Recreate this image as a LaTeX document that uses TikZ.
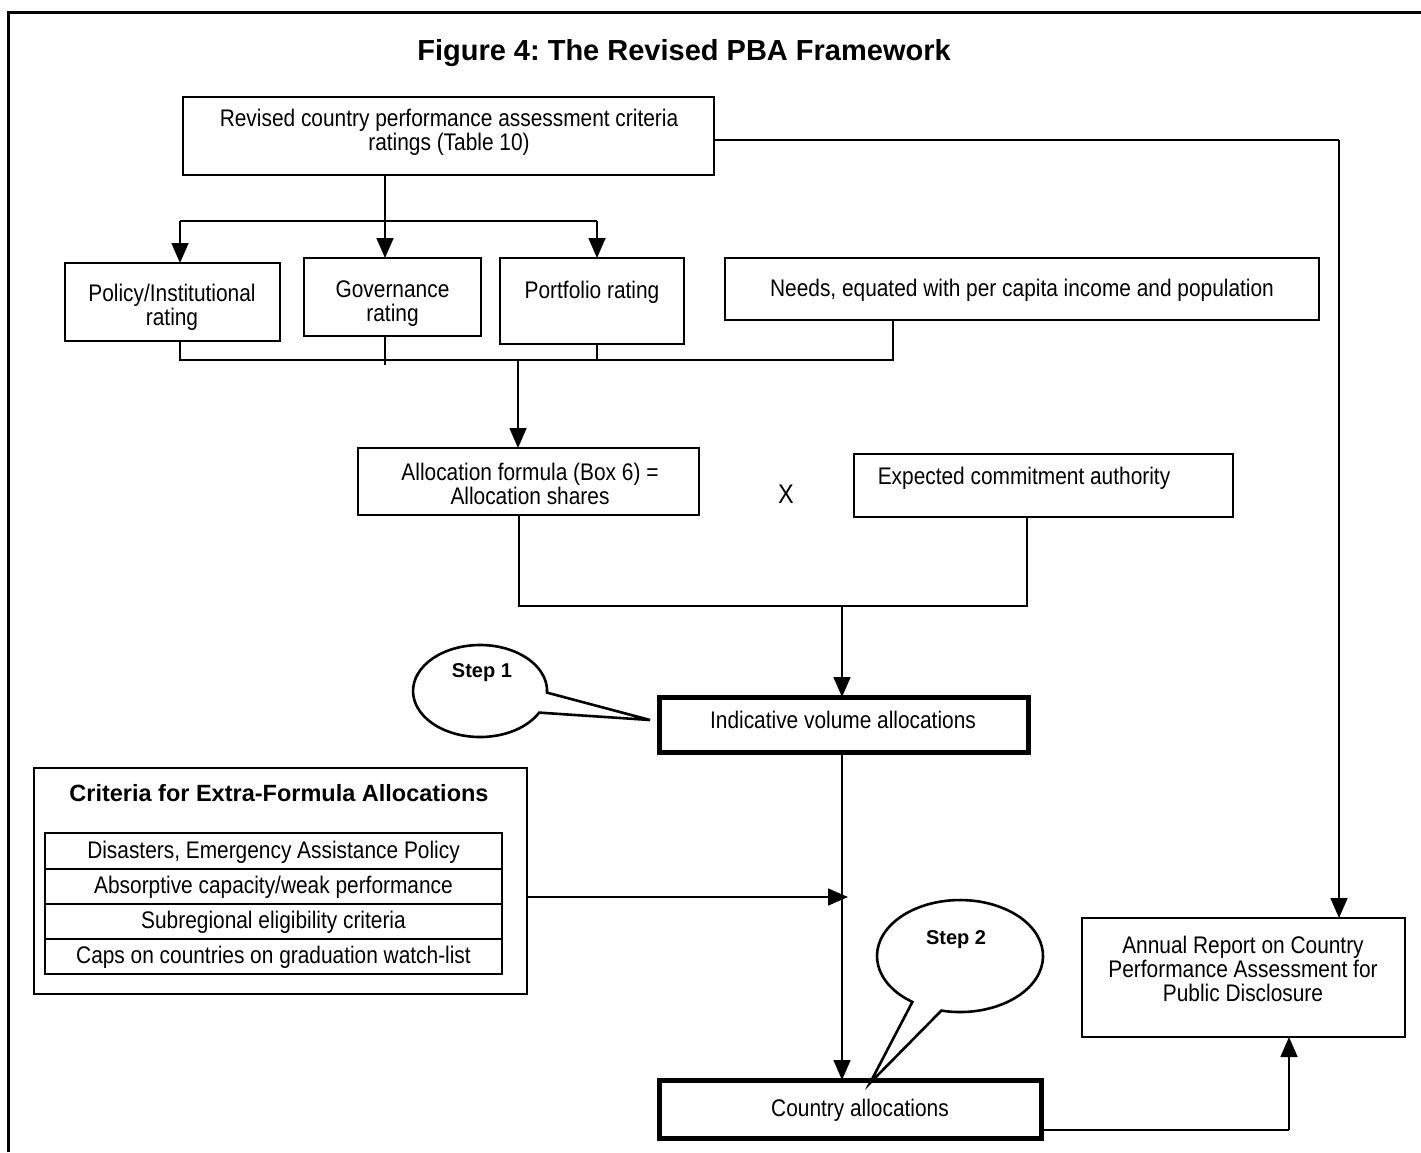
\documentclass[tikz,border=0pt]{standalone}
\usepackage{fontspec}
\setmainfont{Liberation Sans}
\newfontfamily\narrowfont[FakeStretch=0.87]{Liberation Sans}
\usetikzlibrary{arrows.meta}
\frenchspacing
\begin{document}
\begin{tikzpicture}[x=1pt,y=-1pt,
  box/.style={draw, line width=1.6pt, inner sep=0pt, outer sep=0pt},
  thickbox/.style={box, line width=5pt},
  lbl/.style={inner sep=0pt, align=center, font=\narrowfont\fontsize{24}{24}\selectfont},
  conn/.style={line width=1.6pt},
  arr/.style={conn, -{Triangle[length=20pt,width=17pt]}},
  callout/.style={line width=2.6pt, fill=white, line join=miter},
]
\useasboundingbox (0,0) rectangle (1421,1152);
% frame
\draw[line width=3pt] (8,1152) -- (8,12) -- (1421,12);
% title
\node[inner sep=0pt, font=\fontsize{29}{34}\selectfont\bfseries] (title) at (684,53) {Figure 4: The Revised PBA Framework};

% boxes
\node[box, minimum width=531, minimum height=78] (top) at (448.5,136) {};
\node[lbl] (topt) at (449,132) {Revised country performance assessment criteria\\ratings (Table 10)};
\node[box, minimum width=215, minimum height=78] (pol) at (172.5,302) {};
\node[lbl] (polt) at (172,307) {Policy/Institutional\\rating};
\node[box, minimum width=177, minimum height=78] (gov) at (392.5,297) {};
\node[lbl] (govt) at (392.5,304) {Governance\\rating};
\node[box, minimum width=184, minimum height=86] (port) at (592,301) {};
\node[lbl] (portt) at (592,292) {Portfolio rating};
\node[box, minimum width=594, minimum height=62] (need) at (1022,289) {};
\node[lbl] (needt) at (1022,290) {Needs, equated with per capita income and population};
\node[box, minimum width=341, minimum height=67] (alloc) at (528.5,481.5) {};
\node[lbl] (alloct) at (530,484) {Allocation formula (Box 6) =\\Allocation shares};
\node[inner sep=0pt, font=\narrowfont\fontsize{27}{30}\selectfont] (xmark) at (786,494) {X};
\node[box, minimum width=379, minimum height=63] (exp) at (1043.5,485.5) {};
\node[lbl] (expt) at (1024,478) {Expected commitment authority};
\node[thickbox, minimum width=369, minimum height=55] (ind) at (843.5,724.5) {};
\node[lbl] (indt) at (843,720) {Indicative volume allocations};
\node[thickbox, minimum width=382, minimum height=58] (ctry) at (850,1109) {};
\node[lbl] (ctryt) at (860,1110) {Country allocations};
\node[box, minimum width=323, minimum height=119] (ann) at (1243.5,977.5) {};
\node[lbl] (annt) at (1243,969) {Annual Report on Country\\Performance Assessment for\\Public Disclosure};

% criteria
\node[box, minimum width=493, minimum height=226] (crit) at (280.5,881) {};
\node[inner sep=0pt, font=\fontsize{23.5}{28}\selectfont\bfseries] (critt) at (279,793) {Criteria for Extra-Formula Allocations};
\node[box, minimum width=457, minimum height=36] (r1) at (273.5,851) {};
\node[lbl] (r1t) at (273.5,852) {Disasters, Emergency Assistance Policy};
\node[box, minimum width=457, minimum height=35] (r2) at (273.5,886.5) {};
\node[lbl] (r2t) at (273.5,887) {Absorptive capacity/weak performance};
\node[box, minimum width=457, minimum height=35] (r3) at (273.5,921.5) {};
\node[lbl] (r3t) at (273.5,922) {Subregional eligibility criteria};
\node[box, minimum width=457, minimum height=35] (r4) at (273.5,956.5) {};
\node[lbl] (r4t) at (273.5,957) {Caps on countries on graduation watch-list};

% connectors top
\coordinate (b1) at (180,221);
\coordinate (b2) at (385,221);
\coordinate (b3) at (597,221);
\draw[conn] (top.south -| b2) -- (b2);
\draw[conn] (b1) -- (b3);
\draw[arr] (b1) -- (b1 |- pol.north);
\draw[arr] (b2) -- (b2 |- gov.north);
\draw[arr] (b3) -- (b3 |- port.north);
% lower bus
\coordinate (l1) at (180,360);
\coordinate (l4) at (893,360);
\coordinate (lm) at (518,360);
\coordinate (g2) at (385,365);
\draw[conn] (pol.south -| l1) -- (l1) -- (l4) -- (need.south -| l4);
\draw[conn] (gov.south -| g2) -- (g2);
\draw[conn] (port.south -| b3) -- (b3 |- l1);
\draw[arr] (lm) -- (lm |- alloc.north);
% second bus
\coordinate (m1) at (519,606);
\coordinate (m2) at (1027,606);
\coordinate (m3) at (842,606);
\draw[conn] (alloc.south -| m1) -- (m1) -- (m2) -- (exp.south -| m2);
\draw[arr] (m3) -- (m3 |- ind.north);
\draw[arr] (ind.south -| m3) -- (m3 |- ctry.north);
% criteria arrow
\coordinate (ce) at (848,897);
\draw[arr] (crit.east |- ce) -- (ce);
% right side
\coordinate (rr) at (1339,140);
\draw[conn] (top.east |- rr) -- (rr);
\draw[arr] (rr) -- (rr |- ann.north);
\coordinate (qq) at (1289,1130);
\draw[conn] (ctry.east |- qq) -- (qq);
\draw[arr] (qq) -- (qq |- ann.south);

% callouts
\coordinate (tip1) at (650,720);
\draw[callout] (539.2,712.6) arc[start angle=28, end angle=362, x radius=67, y radius=46] -- (tip1) -- cycle;
\node[inner sep=0pt, font=\fontsize{20}{24}\selectfont\bfseries] (s1) at (482,673) {Step 1};
\coordinate (tip2) at (870,1083);
\draw[callout] (912.4,1001.9) arc[start angle=125, end angle=463, x radius=83, y radius=56] -- (tip2) -- cycle;
\node[inner sep=0pt, font=\fontsize{20}{24}\selectfont\bfseries] (s2) at (956,940) {Step 2};
\end{tikzpicture}
\end{document}
